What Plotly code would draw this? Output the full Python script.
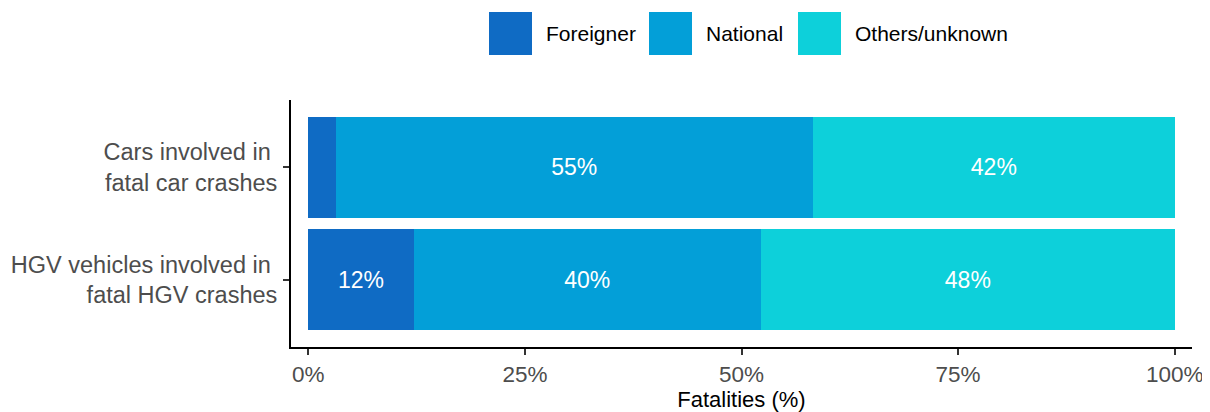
import plotly.graph_objects as go

categories = ["Cars involved in\u00a0<br>fatal car crashes", "HGV vehicles involved in\u00a0<br>fatal HGV crashes"]
series_names = ["Foreigner", "National", "Others/unknown"]
foreigner = [3.15, 12.15]
national = [55.1, 40.1]
others = [41.75, 47.75]
x_ticks = [0, 25, 50, 75, 100]
x_tick_labels = ["0%", "25%", "50%", "75%", "100%"]
colors = ["#0F6BC4", "#039FD8", "#0DD0DA"]

FONT = "Liberation Sans, Arial, sans-serif"

# y positions: first category at top
ypos = [1, 0]

fig = go.Figure()
for name, vals, col in zip(series_names, [foreigner, national, others], colors):
    labels = [f"{round(v)}%" if v >= 5 else "" for v in vals]
    fig.add_trace(go.Bar(
        y=ypos, x=vals, name=name, orientation="h",
        marker=dict(color=col, line=dict(width=0)),
        text=labels, textposition="inside", insidetextanchor="middle",
        textangle=0, textfont=dict(color="white", size=23, family=FONT),
        width=0.9, showlegend=False, hoverinfo="skip",
    ))

# the page body adds an 8px margin; work in window pixels and shift
OFF = 8
W, H = 1210 - OFF, 412 - OFF
L, R, T, B = 291 - OFF, 1192 - OFF, 100 - OFF, 347 - OFF

def px_x(p):
    return (p - OFF - L) / (R - L)

def px_y(p):
    return (B - (p - OFF)) / (B - T)

shapes = []
annotations = []
legend_sq_left = [489, 649, 798]
legend_txt_left = [546, 706, 855]
for name, col, sx, tx in zip(series_names, colors, legend_sq_left, legend_txt_left):
    shapes.append(dict(type="rect", xref="paper", yref="paper",
                       x0=px_x(sx), x1=px_x(sx + 43), y0=px_y(55), y1=px_y(12),
                       fillcolor=col, line=dict(width=0)))
    annotations.append(dict(xref="paper", yref="paper", x=px_x(tx - 2), y=px_y(33.5),
                            text=name, showarrow=False, xanchor="left", yanchor="middle",
                            font=dict(size=21, color="black", family=FONT)))

fig.update_layout(
    width=W, height=H,
    margin=dict(l=L, r=W - R, t=T, b=H - B, pad=0, autoexpand=False),
    barmode="stack",
    bargap=0.1,
    plot_bgcolor="white", paper_bgcolor="white",
    font=dict(family=FONT, size=23, color="#4D4D4D"),
    shapes=shapes, annotations=annotations,
    showlegend=False,
)
fig.update_xaxes(
    range=[-2, 102], tickvals=x_ticks, ticktext=x_tick_labels,
    showgrid=False, zeroline=False, automargin=False,
    showline=True, linecolor="black", linewidth=2,
    ticks="outside", ticklen=6, tickwidth=2, tickcolor="#333333",
    tickfont=dict(size=22.5, color="#4D4D4D", family=FONT),
    title=dict(text="Fatalities (%)", font=dict(size=22, color="black", family=FONT), standoff=2),
)
fig.update_yaxes(
    range=[-0.6, 1.6], tickvals=ypos, ticktext=categories,
    showgrid=False, zeroline=False, automargin=False,
    showline=True, linecolor="black", linewidth=2,
    ticks="outside", ticklen=6, tickwidth=2, tickcolor="#333333",
    ticklabelstandoff=1,
    tickfont=dict(size=23.5, color="#4D4D4D", family=FONT),
)

fig.write_html("out.html")
